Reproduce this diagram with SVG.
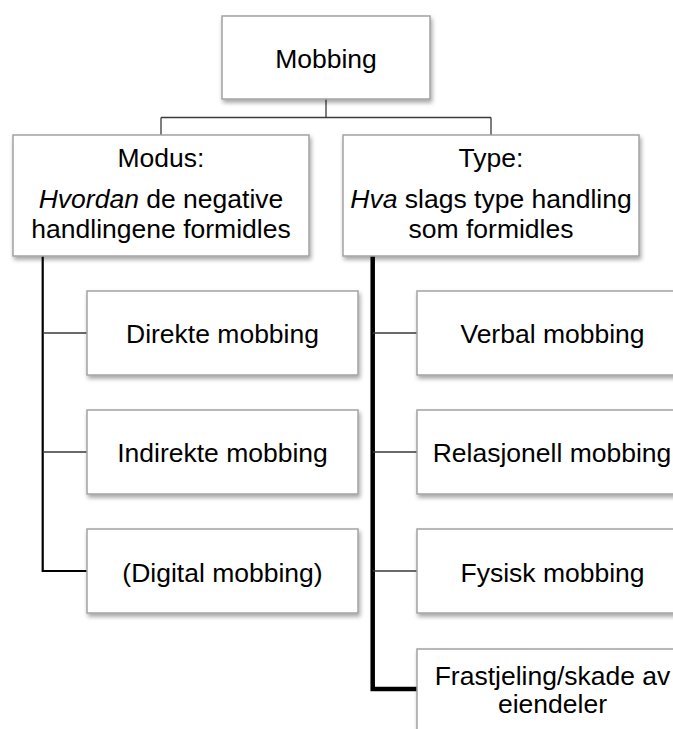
<svg xmlns="http://www.w3.org/2000/svg" width="673" height="729" viewBox="0 0 673 729">
<style>
.box{fill:#fff;stroke:#a3a3a3;stroke-width:1.5;filter:url(#sh)}
.t{font-family:"Liberation Sans",Arial,sans-serif;font-size:26.5px;fill:#000;text-anchor:middle}
.thin{stroke:#3a3a3a;stroke-width:1.3;fill:none}
.med{stroke:#000;stroke-width:2.2;fill:none}
.thick{stroke:#000;stroke-width:4.5;fill:none}
</style>
<defs>
<filter id="sh" x="-10%" y="-10%" width="130%" height="140%">
<feDropShadow dx="1.5" dy="3" stdDeviation="2" flood-color="#000" flood-opacity="0.35"/>
</filter>
</defs>
<rect width="673" height="729" fill="#fff"/>
<g id="connectors">
<path class="thin" d="M326 99V117.5M161 117.5H491M161 117.5V135M491 117.5V135"/>
<path class="med" d="M42.7 256V571H87"/>
<path class="thin" d="M42.7 333H87M42.7 452H87"/>
<path class="thick" d="M372.7 256V689H417"/>
<path class="thin" d="M372.7 333H417M372.7 452H417M372.7 571H417"/>
</g>
<g id="mobbing">
<rect class="box" x="222" y="16" width="208" height="83"/>
<text class="t" x="326" y="68">Mobbing</text>
</g>
<g id="modus">
<rect class="box" x="13" y="135" width="296" height="121"/>
<text class="t" x="161" y="167">Modus:</text>
<text class="t" x="161" y="208"><tspan font-style="italic">Hvordan</tspan> de negative</text>
<text class="t" x="161" y="238">handlingene formidles</text>
</g>
<g id="type">
<rect class="box" x="343" y="135" width="296" height="121"/>
<text class="t" x="491" y="167">Type:</text>
<text class="t" x="491" y="208"><tspan font-style="italic">Hva</tspan> slags type handling</text>
<text class="t" x="491" y="238">som formidles</text>
</g>
<g id="direkte">
<rect class="box" x="87" y="291" width="271" height="84"/>
<text class="t" x="222.5" y="343">Direkte mobbing</text>
</g>
<g id="indirekte">
<rect class="box" x="87" y="410" width="271" height="84"/>
<text class="t" x="222.5" y="462">Indirekte mobbing</text>
</g>
<g id="digital">
<rect class="box" x="87" y="529" width="271" height="84"/>
<text class="t" x="222.5" y="582">(Digital mobbing)</text>
</g>
<g id="verbal">
<rect class="box" x="417" y="291" width="271" height="84"/>
<text class="t" x="552.5" y="343">Verbal mobbing</text>
</g>
<g id="relasjonell">
<rect class="box" x="417" y="410" width="271" height="84"/>
<text class="t" x="552" y="462">Relasjonell mobbing</text>
</g>
<g id="fysisk">
<rect class="box" x="417" y="529" width="271" height="84"/>
<text class="t" x="552.5" y="582">Fysisk mobbing</text>
</g>
<g id="frastjeling">
<rect class="box" x="417" y="649" width="271" height="84"/>
<text class="t" x="552.5" y="685">Frastjeling/skade av</text>
<text class="t" x="552.5" y="713">eiendeler</text>
</g>
</svg>
